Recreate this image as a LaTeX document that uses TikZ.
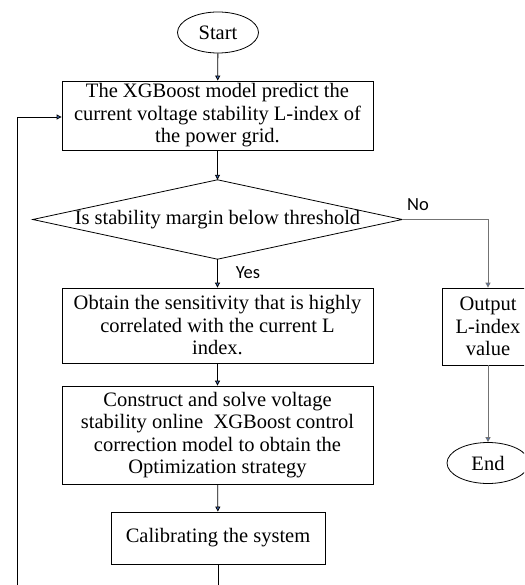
\documentclass[tikz,border=0pt]{standalone}
\usepackage{fontspec}
\setmainfont{Liberation Serif}
\newfontfamily\lblfont{Carlito}
\usetikzlibrary{arrows.meta,shapes.geometric}
\definecolor{tipblue}{HTML}{4472C4}
\begin{document}
\begin{tikzpicture}[x=1pt,y=-1pt,
  every node/.style={font=\fontsize{20.5}{22.5}\selectfont, inner sep=0pt},
  procbox/.style={draw, line width=0.8pt, align=center},
  term/.style={draw, ellipse, line width=0.8pt, minimum width=81, minimum height=41},
  flow/.style={line width=0.8pt, -{Triangle[length=5pt,width=5pt,fill=tipblue]}},
  graylink/.style={line width=0.9pt, draw=black!55},
  lbl/.style={font=\lblfont\fontsize{18.5}{20}\selectfont}]
\clip (0,0) rectangle (524,585);
\fill[white] (0,0) rectangle (524,585);
\node[term] (start) at (218,32.5) {Start};
\node[procbox, minimum width=311, minimum height=69] (b1) at (217.5,115.5)
  {The XGBoost model predict the\\current voltage stability L-index of\\the power grid.};
\node[minimum width=369, minimum height=79] (dia) at (217.5,219.5) {Is stability margin below threshold};
\draw[line width=0.8pt] (dia.north) -- (dia.east) -- (dia.south) -- (dia.west) -- cycle;
\node[procbox, minimum width=311, minimum height=75] (b2) at (217.5,325.5)
  {Obtain the sensitivity that is highly\\correlated with the current L\\index.};
\node[procbox, minimum width=311, minimum height=98] (b3) at (217.5,435)
  {Construct and solve voltage\\stability online\ \ XGBoost control\\correction model to obtain the\\Optimization strategy};
\node[procbox, minimum width=214, minimum height=52] (b4) at (218,538) {Calibrating the system};
\node[procbox, minimum width=92, minimum height=77] (out) at (488,326.5)
  {Output\\L-index\\value};
\node[term, minimum width=82, minimum height=41] (end) at (488,463) {End};
\node[lbl] (no) at (418,205) {No};
\node[lbl] (yes) at (248,273) {Yes};
\coordinate (nocorner) at (488,219.5);
\coordinate (loopbot) at (218,600);
\coordinate (loopleft) at (17,600);
\coordinate (looptop) at (17,117);
\draw[flow] (start) -- (b1);
\draw[flow] (b1) -- (dia.north);
\draw[flow] (dia.south) -- (b2);
\draw[flow] (b2) -- (b3);
\draw[flow] (b3) -- (b4);
\draw[flow, graylink] (dia.east) -- (nocorner) -- (out.north);
\draw[flow, graylink] (out) -- (end);
\draw[flow] (b4) -- (loopbot) -- (loopleft) -- (looptop) -- (b1.west |- looptop);
\end{tikzpicture}
\end{document}
